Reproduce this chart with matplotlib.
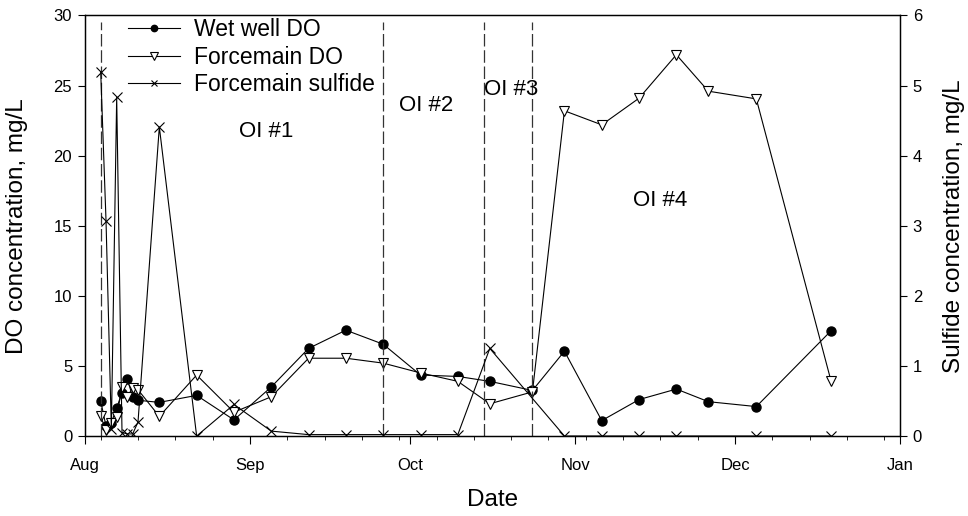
import datetime as dt

import matplotlib
matplotlib.use("Agg")
import matplotlib.dates as mdates
import matplotlib.pyplot as plt

plt.rcParams["font.family"] = ["Liberation Sans", "DejaVu Sans"]

START = dt.date(2003, 8, 1)

# sampling days counted from Aug 1
wet_days = [3, 4, 5, 6, 7, 8, 9, 10, 14, 21, 28, 35, 42, 49, 56, 63, 70, 76,
            84, 90, 97, 104, 111, 117, 126, 140]
wet_do = [2.5, 0.7, 0.95, 2.0, 3.1, 4.05, 2.8, 2.55, 2.4, 2.9, 1.15, 3.5,
          6.25, 7.55, 6.55, 4.35, 4.25, 3.9, 3.25, 6.05, 1.1, 2.6, 3.35,
          2.45, 2.1, 7.5]

fm_days = wet_days
fm_do = [1.4, 0.4, 0.9, 1.35, 3.5, 2.8, 3.45, 3.3, 1.4, 4.35, 1.7, 2.8,
         5.55, 5.55, 5.2, 4.5, 3.9, 2.3, 3.15, 23.2, 22.2, 24.1, 27.2,
         24.6, 24.05, 3.95]

sulf_days = [3, 4, 5, 6, 7, 8, 9, 10, 14, 21, 28, 35, 42, 49, 56, 63, 70,
             76, 90, 97, 104, 111, 126, 140]
sulf = [5.2, 3.07, 0.1, 4.83, 0.05, 0.03, 0.03, 0.2, 4.41, 0.0, 0.45, 0.07,
        0.02, 0.02, 0.02, 0.02, 0.02, 1.25, 0.0, 0.0, 0.0, 0.0, 0.0, 0.0]

phase_days = [3, 56, 75, 84]
phase_labels = ["OI #1", "OI #2", "OI #3", "OI #4"]
phase_label_days = [34.2, 64.8, 80.0, 108.5]
phase_label_y = [21.7, 23.6, 24.75, 16.8]


def to_dates(days):
    return [START + dt.timedelta(days=d) for d in days]


fig = plt.figure(figsize=(9.68, 5.16), dpi=100)
ax = fig.add_axes([0.0875, 0.155, 0.8425, 0.815])
ax2 = ax.twinx()

line_kw = dict(color="black", linewidth=0.8)
h1, = ax.plot(to_dates(wet_days), wet_do, marker="o", markersize=6.5,
              markerfacecolor="black", markeredgecolor="black",
              label="Wet well DO", **line_kw)
h2, = ax.plot(to_dates(fm_days), fm_do, marker="v", markersize=7.5,
              markerfacecolor="white", markeredgecolor="black",
              markeredgewidth=0.8, label="Forcemain DO", **line_kw)
h3, = ax2.plot(to_dates(sulf_days), sulf, marker="x", markersize=7,
               markeredgewidth=0.8, color="black", linewidth=0.8,
               label="Forcemain sulfide")

ax.vlines(to_dates(phase_days), 0, 29.5, colors="#333333", linewidth=0.9,
          linestyles=(0, (10, 3)))

for day, y, text in zip(phase_label_days, phase_label_y, phase_labels):
    ax.text(to_dates([day])[0], y, text, ha="center", va="center", fontsize=16)

ax.set_xlim(dt.date(2003, 8, 1), dt.date(2004, 1, 1))
ax.set_ylim(0, 30)
ax2.set_ylim(0, 6)

ax.xaxis.set_major_locator(mdates.MonthLocator())
ax.xaxis.set_major_formatter(mdates.DateFormatter("%b"))
ax.xaxis.set_minor_locator(mdates.WeekdayLocator(byweekday=mdates.MO))
ax.set_yticks(range(0, 31, 5))
ax2.set_yticks(range(0, 7))

ax.tick_params(axis="x", which="major", direction="out", length=6, labelsize=12, pad=10)
ax.tick_params(axis="x", which="minor", direction="out", length=3)
ax.tick_params(axis="y", direction="out", length=5, labelsize=12, pad=4)
ax2.tick_params(axis="y", direction="out", length=5, labelsize=12, pad=4)

for a in (ax, ax2):
    for spine in a.spines.values():
        spine.set_linewidth(0.9)

ax.set_xlabel("Date", fontsize=17.5)
ax.set_ylabel("DO concentration, mg/L", fontsize=17.5)
ax2.set_ylabel("Sulfide concentration, mg/L", fontsize=17.5)
ax.xaxis.set_label_coords(0.5, -0.125)
ax.yaxis.set_label_coords(-0.07, 0.5)
ax2.yaxis.set_label_coords(1.053, 0.5)

ax.legend(handles=[h1, h2, h3], loc="upper left", bbox_to_anchor=(0.053, 0.994),
          frameon=False, fontsize=16.5, markerscale=0.7, handlelength=2.27,
          handletextpad=0.6, labelspacing=0.2, borderpad=0, borderaxespad=0)

fig.savefig("out.png", dpi=100)
